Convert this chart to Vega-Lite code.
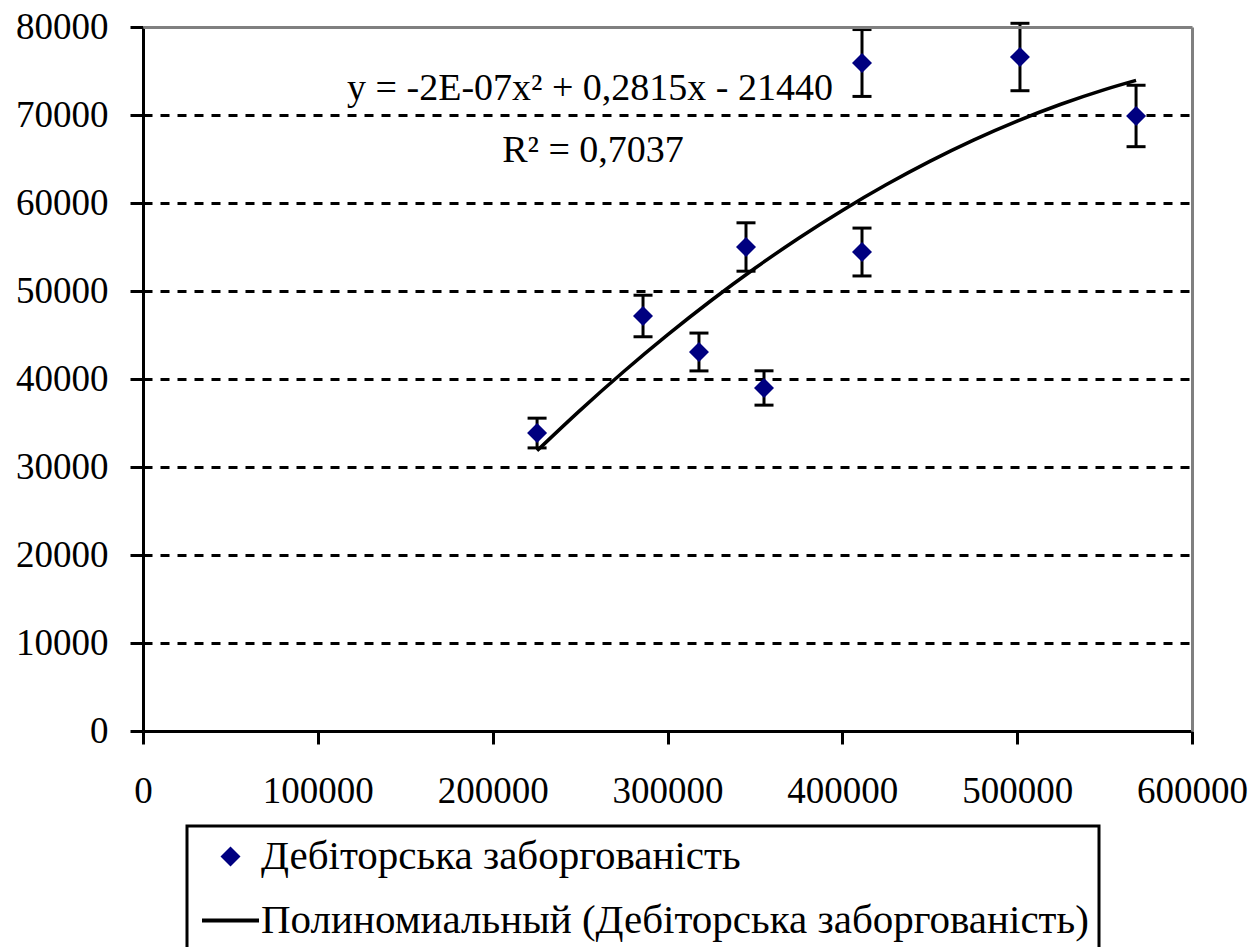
{
  "$schema": "https://vega.github.io/schema/vega-lite/v6.json",
  "width": 1049,
  "height": 704,
  "autosize": {"type": "none"},
  "padding": {"left": 143, "top": 27, "right": 60, "bottom": 216},
  "background": "white",
  "config": {
    "view": {"stroke": null},
    "font": "Liberation Serif",
    "axis": {
      "labelFont": "Liberation Serif",
      "labelFontSize": 37,
      "labelColor": "black",
      "domainColor": "black",
      "domainWidth": 3,
      "tickColor": "black",
      "tickWidth": 3,
      "tickSize": 13,
      "title": null,
      "grid": false
    },
    "legend": {
      "strokeColor": "black",
      "strokeWidth": 3
    }
  },
  "resolve": {"axis": {"x": "independent", "y": "independent"}},
  "datasets": {
    "points": [
      {"x": 225400, "y": 33860, "low": 32170, "high": 35550, "series": "Дебіторська заборгованість"},
      {"x": 286000, "y": 47160, "low": 44800, "high": 49520, "series": "Дебіторська заборгованість"},
      {"x": 318000, "y": 43070, "low": 40920, "high": 45220, "series": "Дебіторська заборгованість"},
      {"x": 344900, "y": 55000, "low": 52250, "high": 57750, "series": "Дебіторська заборгованість"},
      {"x": 355200, "y": 38980, "low": 37030, "high": 40930, "series": "Дебіторська заборгованість"},
      {"x": 411250, "y": 75910, "low": 72110, "high": 79710, "series": "Дебіторська заборгованість"},
      {"x": 411250, "y": 54430, "low": 51710, "high": 57150, "series": "Дебіторська заборгованість"},
      {"x": 501600, "y": 76590, "low": 72760, "high": 80420, "series": "Дебіторська заборгованість"},
      {"x": 568000, "y": 69890, "low": 66400, "high": 73380, "series": "Дебіторська заборгованість"}
    ],
    "trend": [
      {"x": 225400, "y": 31850},
      {"x": 250000, "y": 36435},
      {"x": 275000, "y": 40850},
      {"x": 300000, "y": 45010},
      {"x": 325000, "y": 48920},
      {"x": 350000, "y": 52585},
      {"x": 375000, "y": 56000},
      {"x": 400000, "y": 59160},
      {"x": 425000, "y": 62070},
      {"x": 450000, "y": 64735},
      {"x": 475000, "y": 67150},
      {"x": 500000, "y": 69310},
      {"x": 525000, "y": 71220},
      {"x": 550000, "y": 72885},
      {"x": 568000, "y": 73930}
    ],
    "labels": [
      {"x": 255700, "y": 71700, "text": "y = -2E-07x² + 0,2815x - 21440"},
      {"x": 257400, "y": 64660, "text": "R² = 0,7037"}
    ]
  },
  "layer": [
    {
      "data": {"name": "points"},
      "mark": {"type": "rule", "color": "black", "strokeWidth": 3},
      "encoding": {
        "x": {
          "field": "x", "type": "quantitative",
          "scale": {"domain": [0, 600000], "nice": false, "zero": false},
          "axis": {
            "orient": "bottom",
            "values": [0, 100000, 200000, 300000, 400000, 500000, 600000],
            "format": "d",
            "labelPadding": 29,
            "labelFlush": false,
            "labelOverlap": false
          }
        },
        "y": {
          "field": "low", "type": "quantitative",
          "scale": {"domain": [0, 80000], "nice": false, "zero": false},
          "axis": {
            "orient": "left",
            "values": [0, 10000, 20000, 30000, 40000, 50000, 60000, 70000, 80000],
            "format": "d",
            "labelPadding": 22,
            "labelOverlap": false,
            "labelFlush": false,
            "grid": true,
            "gridColor": "black",
            "gridWidth": 3,
            "gridDash": [9, 8],
            "gridOpacity": {"condition": {"test": "datum.value === 80000 || datum.value === 0", "value": 0}, "value": 1}
          }
        },
        "y2": {"field": "high"}
      }
    },
    {
      "data": {"name": "points"},
      "mark": {"type": "tick", "orient": "horizontal", "color": "black", "size": 19, "thickness": 3, "opacity": 1},
      "encoding": {
        "x": {"field": "x", "type": "quantitative", "axis": null},
        "y": {"field": "low", "type": "quantitative", "axis": null}
      }
    },
    {
      "data": {"name": "points"},
      "mark": {"type": "tick", "orient": "horizontal", "color": "black", "size": 19, "thickness": 3, "opacity": 1},
      "encoding": {
        "x": {"field": "x", "type": "quantitative", "axis": null},
        "y": {"field": "high", "type": "quantitative", "axis": null}
      }
    },
    {
      "data": {"name": "points"},
      "mark": {"type": "point", "filled": true, "opacity": 1, "strokeWidth": 0},
      "encoding": {
        "x": {"field": "x", "type": "quantitative", "axis": null},
        "y": {"field": "y", "type": "quantitative", "axis": null},
        "color": {
          "field": "series", "type": "nominal",
          "scale": {"domain": ["Дебіторська заборгованість", "Полиномиальный (Дебіторська заборгованість)"], "range": ["#000080", "black"]},
          "legend": {
            "title": null,
            "orient": "none",
            "legendX": 44,
            "legendY": 799,
            "direction": "vertical",
            "strokeColor": "black",
            "fillColor": "white",
            "padding": 10,
            "labelFont": "Liberation Serif",
            "labelFontSize": 41,
            "labelColor": "black",
            "labelLimit": 0,
            "labelOffset": 10,
            "symbolOffset": 13,
            "rowPadding": 22,
            "symbolOpacity": 1,
            "encode": {
              "symbols": {
                "update": {
                  "stroke": {"value": "black"},
                  "strokeWidth": {"signal": "datum.value === 'Полиномиальный (Дебіторська заборгованість)' ? 4 : 0"}
                }
              }
            }
          }
        },
        "shape": {
          "field": "series", "type": "nominal",
          "scale": {"domain": ["Дебіторська заборгованість", "Полиномиальный (Дебіторська заборгованість)"], "range": ["diamond", "stroke"]},
          "legend": {"title": null}
        },
        "size": {
          "field": "series", "type": "nominal",
          "scale": {"domain": ["Дебіторська заборгованість", "Полиномиальный (Дебіторська заборгованість)"], "range": [400, 3249]},
          "legend": {"title": null}
        }
      }
    },
    {
      "data": {"name": "trend"},
      "mark": {"type": "line", "color": "black", "strokeWidth": 3.5, "interpolate": "monotone"},
      "encoding": {
        "x": {
          "field": "x", "type": "quantitative",
          "axis": {"orient": "top", "labels": false, "ticks": false, "grid": false, "domainColor": "#808080", "domainWidth": 3, "zindex": 1}
        },
        "y": {
          "field": "y", "type": "quantitative",
          "axis": {"orient": "right", "labels": false, "ticks": false, "grid": false, "domainColor": "#808080", "domainWidth": 3, "zindex": 1}
        }
      }
    },
    {
      "data": {"name": "labels"},
      "mark": {"type": "text", "font": "Liberation Serif", "fontSize": 38, "color": "black", "align": "center", "baseline": "alphabetic"},
      "encoding": {
        "x": {"field": "x", "type": "quantitative", "axis": null},
        "y": {"field": "y", "type": "quantitative", "axis": null},
        "text": {"field": "text"}
      }
    }
  ]
}
